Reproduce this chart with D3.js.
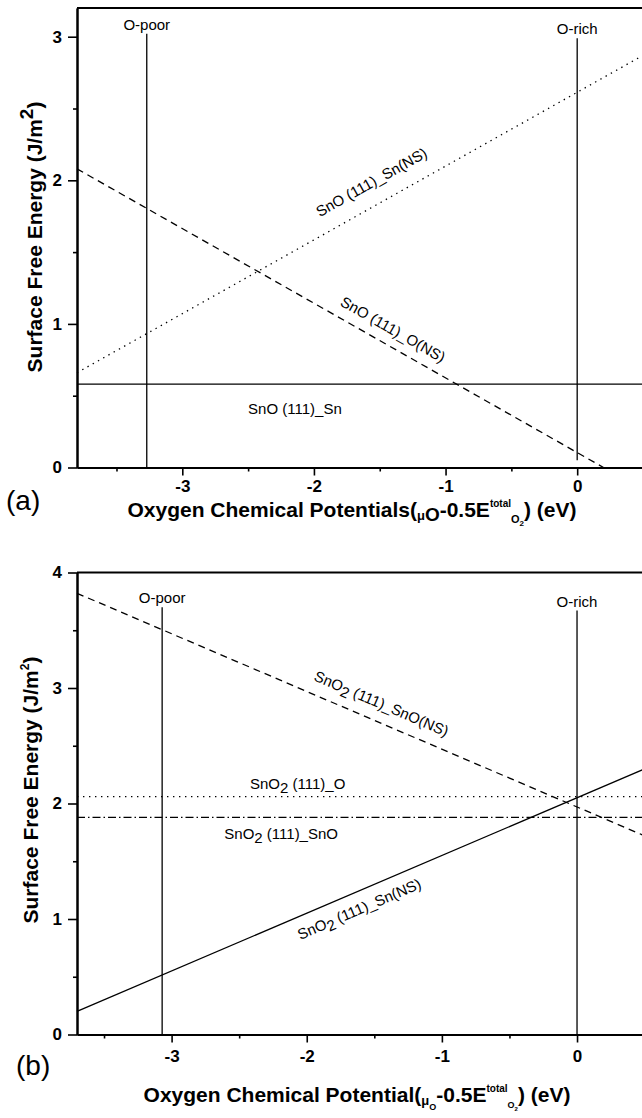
<!DOCTYPE html>
<html>
<head>
<meta charset="utf-8">
<script src="https://cdn.jsdelivr.net/npm/d3@7"></script>
<style>
body { margin: 0; background: #fff; }
text { font-family: "Liberation Sans", Arial, sans-serif; fill: #000; }
</style>
</head>
<body>
<div id="chart"></div>
<script>
// ---- panel (a) : SnO (111) ----
let aTicksX = [-3, -2, -1, 0];
let aMinorX = [-3.5, -2.5, -1.5, -0.5];
let aTicksY = [0, 1, 2, 3];
let aMinorY = [0.5, 1.5, 2.5];
let aDomainX = [-3.8, 0.5];
let aDomainY = [0, 3.2];

let aSnX = [-3.8, 0.5];     // SnO (111)_Sn, solid
let aSnY = [0.58, 0.58];
let aONSX = [-3.8, 0.2];    // SnO (111)_O(NS), dashed
let aONSY = [2.08, 0.0];
let aSnNSX = [-3.8, 0.5];   // SnO (111)_Sn(NS), dotted
let aSnNSY = [0.66, 2.87];

let aLimitNames = ["O-poor", "O-rich"];
let aLimitX = [-3.27, 0];
let aLimitTop = [3.02, 2.99];
let aLimitBottom = [0, 0.05];

// ---- panel (b) : SnO2 (111) ----
let bTicksX = [-3, -2, -1, 0];
let bMinorX = [-3.5, -2.5, -1.5, -0.5];
let bTicksY = [0, 1, 2, 3, 4];
let bMinorY = [0.5, 1.5, 2.5, 3.5];
let bDomainX = [-3.7, 0.5];
let bDomainY = [0, 4];

let bSnONSX = [-3.7, 0.5];  // SnO2 (111)_SnO(NS), dashed
let bSnONSY = [3.82, 1.72];
let bOX = [-3.7, 0.5];      // SnO2 (111)_O, dotted
let bOY = [2.06, 2.06];
let bSnOX = [-3.7, 0.5];    // SnO2 (111)_SnO, dash-dot
let bSnOY = [1.88, 1.88];
let bSnNSX = [-3.7, 0.5];   // SnO2 (111)_Sn(NS), solid
let bSnNSY = [0.20, 2.30];

let bLimitNames = ["O-poor", "O-rich"];
let bLimitX = [-3.07, 0];
let bLimitTop = [3.70, 3.67];
let bLimitBottom = [0, 0];

let W = 642, H = 1118;
let svg = d3.select("#chart").append("svg")
	.attr("width", W)
	.attr("height", H);

let dash = { solid: null, dashed: "7,5", dotted: "1.4,4.6", dashdot: "8,3,1.5,3" };
let fmt = function(d) { return String(d); };

// writes pieces of text with shifted baselines: [text, size, shift]
function rich(t, parts) {
	let prev = 0;
	parts.forEach(function(p) {
		t.append("tspan")
			.attr("font-size", p[1])
			.attr("dy", p[2] - prev)
			.text(p[0]);
		prev = p[2];
	});
}

function drawPanel(p) {
	let g = svg.append("g");
	let x = d3.scaleLinear().domain(p.domainX).range(p.rangeX);
	let y = d3.scaleLinear().domain(p.domainY).range(p.rangeY);

	// axes (outward ticks), minor ticks without labels
	g.append("g")
		.attr("class", "major")
		.attr("transform", "translate(0," + p.rangeY[0] + ")")
		.call(d3.axisBottom(x).tickValues(p.ticksX).tickSize(8).tickSizeOuter(0).tickPadding(p.padX).tickFormat(fmt));
	g.append("g")
		.attr("transform", "translate(0," + p.rangeY[0] + ")")
		.call(d3.axisBottom(x).tickValues(p.minorX).tickSize(4).tickSizeOuter(0).tickFormat(""));
	g.append("g")
		.attr("class", "major")
		.attr("transform", "translate(" + p.rangeX[0] + ",0)")
		.call(d3.axisLeft(y).tickValues(p.ticksY).tickSize(9).tickSizeOuter(0).tickPadding(6).tickFormat(fmt));
	g.append("g")
		.attr("transform", "translate(" + p.rangeX[0] + ",0)")
		.call(d3.axisLeft(y).tickValues(p.minorY).tickSize(4).tickSizeOuter(0).tickFormat(""));

	g.selectAll(".domain").attr("stroke-width", 2);
	g.selectAll(".tick line").attr("stroke-width", 1.6);
	g.selectAll(".major .tick text")
		.attr("font-family", "Liberation Sans, Arial, sans-serif")
		.attr("font-size", 17)
		.attr("font-weight", "bold");

	// top frame
	g.append("line")
		.attr("x1", p.rangeX[0]).attr("x2", p.rangeX[1])
		.attr("y1", p.rangeY[1]).attr("y2", p.rangeY[1])
		.attr("stroke", "#000").attr("stroke-width", 2);

	// O-poor / O-rich limits
	p.limitX.forEach(function(lx, i) {
		g.append("line")
			.attr("x1", x(lx)).attr("x2", x(lx))
			.attr("y1", y(p.limitBottom[i])).attr("y2", y(p.limitTop[i]))
			.attr("stroke", "#000").attr("stroke-width", 1.3);
		g.append("text")
			.attr("x", x(lx)).attr("y", y(p.limitTop[i]) - 4)
			.attr("text-anchor", "middle")
			.attr("font-size", 15)
			.text(p.limitNames[i]);
	});

	// energy lines
	let line = d3.line()
		.x(function(d) { return x(d[0]); })
		.y(function(d) { return y(d[1]); });
	p.lines.forEach(function(l) {
		g.append("path")
			.datum(d3.zip(l.xs, l.ys))
			.attr("d", line)
			.attr("fill", "none")
			.attr("stroke", "#000")
			.attr("stroke-width", 1.3)
			.attr("stroke-dasharray", dash[l.style]);
	});

	// line labels
	p.labels.forEach(function(lb) {
		let l = p.lines[lb.line];
		let k = (lb.at - l.xs[0]) / (l.xs[1] - l.xs[0]);
		let vy = l.ys[0] + k * (l.ys[1] - l.ys[0]);
		let px = x(lb.at), py = y(vy);
		let ang = lb.rotate ? Math.atan2(y(l.ys[1]) - y(l.ys[0]), x(l.xs[1]) - x(l.xs[0])) * 180 / Math.PI : 0;
		let t = g.append("text")
			.attr("transform", "translate(" + px + "," + py + ") rotate(" + ang + ")")
			.attr("y", lb.off)
			.attr("text-anchor", lb.rotate ? "middle" : "start")
			.attr("font-size", 15);
		rich(t, lb.parts);
	});

	// axis titles
	let xt = g.append("text")
		.attr("x", p.titleX[0]).attr("y", p.titleX[1])
		.attr("text-anchor", "middle")
		.attr("font-weight", "bold")
		.attr("font-size", 21);
	rich(xt, p.xTitle);
	let yt = g.append("text")
		.attr("transform", "translate(" + p.titleY[0] + "," + p.titleY[1] + ") rotate(-90)")
		.attr("text-anchor", "middle")
		.attr("font-weight", "bold")
		.attr("font-size", 21);
	rich(yt, p.yTitle);

	g.append("text")
		.attr("x", p.tag[0]).attr("y", p.tag[1])
		.attr("font-family", "Liberation Mono, Courier New, monospace")
		.attr("font-size", 28)
		.text(p.tag[2]);
}

drawPanel({
	domainX: aDomainX, domainY: aDomainY,
	rangeX: [77, 643], rangeY: [467.5, 8],
	ticksX: aTicksX, minorX: aMinorX, ticksY: aTicksY, minorY: aMinorY, padX: 4,
	limitX: aLimitX, limitTop: aLimitTop, limitBottom: aLimitBottom, limitNames: aLimitNames,
	lines: [
		{ xs: aSnX, ys: aSnY, style: "solid" },
		{ xs: aONSX, ys: aONSY, style: "dashed" },
		{ xs: aSnNSX, ys: aSnNSY, style: "dotted" }
	],
	labels: [
		{ line: 0, at: -2.5, off: 30, rotate: false, parts: [["SnO (111)_Sn", 15, 0]] },
		{ line: 1, at: -1.46, off: -11, rotate: true, parts: [["SnO (111)_O(NS)", 15, 0]] },
		{ line: 2, at: -1.48, off: -17, rotate: true, parts: [["SnO (111)_Sn(NS)", 15, 0]] }
	],
	xTitle: [["Oxygen Chemical Potentials(", 21, 0], ["\u03bc", 13, 3], ["O", 19, 4], ["-0.5E", 21, 0],
		["total", 10, -10], ["O", 11, 6], ["2", 8, 9], [") (eV)", 21, 0]],
	titleX: [352, 517],
	yTitle: [["Surface Free Energy (J/m", 21, 0], ["2", 19, -9], [")", 21, 0]],
	titleY: [42, 237],
	tag: [6, 510, "(a)"]
});

drawPanel({
	domainX: bDomainX, domainY: bDomainY,
	rangeX: [77, 644.6], rangeY: [1034.5, 572.5],
	ticksX: bTicksX, minorX: bMinorX, ticksY: bTicksY, minorY: bMinorY, padX: 7,
	limitX: bLimitX, limitTop: bLimitTop, limitBottom: bLimitBottom, limitNames: bLimitNames,
	lines: [
		{ xs: bSnONSX, ys: bSnONSY, style: "dashed" },
		{ xs: bOX, ys: bOY, style: "dotted" },
		{ xs: bSnOX, ys: bSnOY, style: "dashdot" },
		{ xs: bSnNSX, ys: bSnNSY, style: "solid" }
	],
	labels: [
		{ line: 0, at: -1.5, off: -13, rotate: true, parts: [["SnO", 15, 0], ["2", 15, 4], [" (111)_SnO(NS)", 15, 0]] },
		{ line: 1, at: -2.42, off: -8, rotate: false, parts: [["SnO", 15, 0], ["2", 15, 4], [" (111)_O", 15, 0]] },
		{ line: 2, at: -2.61, off: 22, rotate: false, parts: [["SnO", 15, 0], ["2", 15, 4], [" (111)_SnO", 15, 0]] },
		{ line: 3, at: -1.66, off: 22, rotate: true, parts: [["SnO", 15, 0], ["2", 15, 4], [" (111)_Sn(NS)", 15, 0]] }
	],
	xTitle: [["Oxygen Chemical Potential(", 21, 0], ["\u03bc", 13, 3], ["O", 9, 8], ["-0.5E", 21, 0],
		["total", 10, -10], ["O", 9, 6], ["2", 6, 9], [") (eV)", 21, 0]],
	titleX: [357, 1102],
	yTitle: [["Surface Free Energy (J/m", 21, 0], ["2", 12, -9], [")", 21, 0]],
	titleY: [38, 790],
	tag: [16, 1075, "(b)"]
});
</script>
</body>
</html>
